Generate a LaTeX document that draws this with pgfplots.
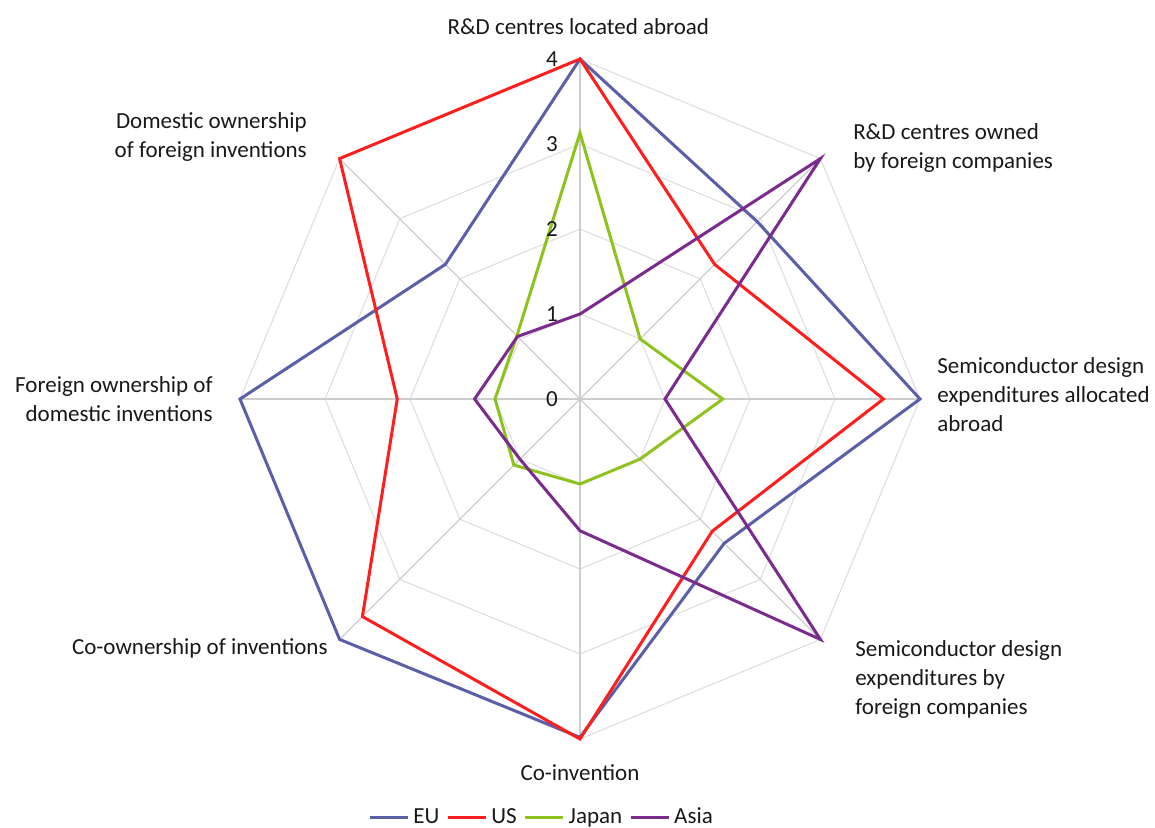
\documentclass[border=0pt]{standalone}
\usepackage{fontspec}
\setmainfont{Carlito}
\usepackage{pgfplots}
\pgfplotsset{compat=1.18}
\definecolor{euc}{RGB}{90,95,168}
\definecolor{usc}{RGB}{255,30,30}
\definecolor{jpc}{RGB}{141,194,31}
\definecolor{asc}{RGB}{123,42,142}
\definecolor{gridc}{RGB}{222,222,222}
\definecolor{spokec}{RGB}{205,205,205}
\definecolor{txt}{RGB}{25,25,25}
\newcommand{\lbl}{\fontsize{11.5}{14.5}\selectfont}
\pgfplotsset{
  ring/.style={gridc,line width=0.55pt,forget plot,data cs=polar},
  spoke/.style={spokec,line width=0.55pt,forget plot,data cs=polar},
  series/.style={line width=1.5pt,line join=miter,data cs=polar,no markers},
}
\tikzset{cat/.style={font=\lbl,text=txt,inner sep=0pt}}
\begin{document}
\begin{tikzpicture}
\begin{axis}[
  scale only axis, width=340pt, height=340pt,
  xmin=-4, xmax=4, ymin=-4, ymax=4,
  hide axis, clip=false,
  legend columns=4,
  legend style={draw=none, fill=none, at={(0.445,-0.115)}, anchor=center,
    font=\lbl, text=txt,
    /tikz/every even column/.append style={column sep=1.5pt}},
  legend image code/.code={\draw[#1] (0pt,0pt) -- (19pt,0pt);},
]
% octagon rings
\addplot[ring] coordinates {(90,1)(45,1)(0,1)(-45,1)(-90,1)(-135,1)(180,1)(135,1)(90,1)};
\addplot[ring] coordinates {(90,2)(45,2)(0,2)(-45,2)(-90,2)(-135,2)(180,2)(135,2)(90,2)};
\addplot[ring] coordinates {(90,3)(45,3)(0,3)(-45,3)(-90,3)(-135,3)(180,3)(135,3)(90,3)};
\addplot[ring] coordinates {(90,4)(45,4)(0,4)(-45,4)(-90,4)(-135,4)(180,4)(135,4)(90,4)};
% spokes
\addplot[spoke] coordinates {(90,4)(270,4)};
\addplot[spoke] coordinates {(45,4)(225,4)};
\addplot[spoke] coordinates {(0,4)(180,4)};
\addplot[spoke] coordinates {(135,4)(315,4)};

% series: top, NE, E, SE, S, SW, W, NW
\addplot[series,euc] coordinates {(90,4)(45,2.95)(0,4)(-45,2.4)(-90,3.98)(-135,4)(180,4)(135,2.24)(90,4)(45,2.95)};
\addlegendentry{EU}
\addplot[series,usc] coordinates {(90,4)(45,2.24)(0,3.57)(-45,2.2)(-90,4)(-135,3.62)(180,2.15)(135,4)(90,4)(45,2.24)};
\addlegendentry{US}
\addplot[series,jpc] coordinates {(90,3.13)(45,1.0)(0,1.68)(-45,1.0)(-90,1.0)(-135,1.1)(180,1.0)(135,1.05)(90,3.13)(45,1.0)};
\addlegendentry{Japan}
\addplot[series,asc] coordinates {(90,1.0)(45,4)(0,1.0)(-45,4)(-90,1.55)(-135,1.0)(180,1.24)(135,1.04)(90,1.0)(45,4)};
\addlegendentry{Asia}

% value labels
\node[cat] at (axis cs:-0.33,4) {4};
\node[cat] at (axis cs:-0.33,3) {3};
\node[cat] at (axis cs:-0.33,2) {2};
\node[cat] at (axis cs:-0.33,1) {1};
\node[cat] at (axis cs:-0.33,0) {0};

% category labels
\node[cat,anchor=center] at (axis cs:-0.02,4.376) {R\&D centres located abroad};
\node[cat,anchor=west,align=left] at (axis cs:3.21,2.95) {R\&D centres owned\\by foreign companies};
\node[cat,anchor=west,align=left] at (axis cs:4.2,0.05) {Semiconductor design\\expenditures allocated\\abroad};
\node[cat,anchor=west,align=left] at (axis cs:3.235,-3.294) {Semiconductor design\\expenditures by\\foreign companies};
\node[cat,anchor=center] at (axis cs:0,-4.39) {Co-invention};
\node[cat,anchor=east] at (axis cs:-2.965,-2.93) {Co-ownership of inventions};
\node[cat,anchor=east,align=right] at (axis cs:-4.318,0) {Foreign ownership of\\domestic inventions};
\node[cat,anchor=east,align=right] at (axis cs:-3.21,3.08) {Domestic ownership\\of foreign inventions};

\coordinate (O) at (axis cs:0,0);
\end{axis}
\pgfresetboundingbox
\path ([shift={(-290pt,-214pt)}]O) rectangle ([shift={(287.5pt,199.5pt)}]O);
\end{tikzpicture}
\end{document}
